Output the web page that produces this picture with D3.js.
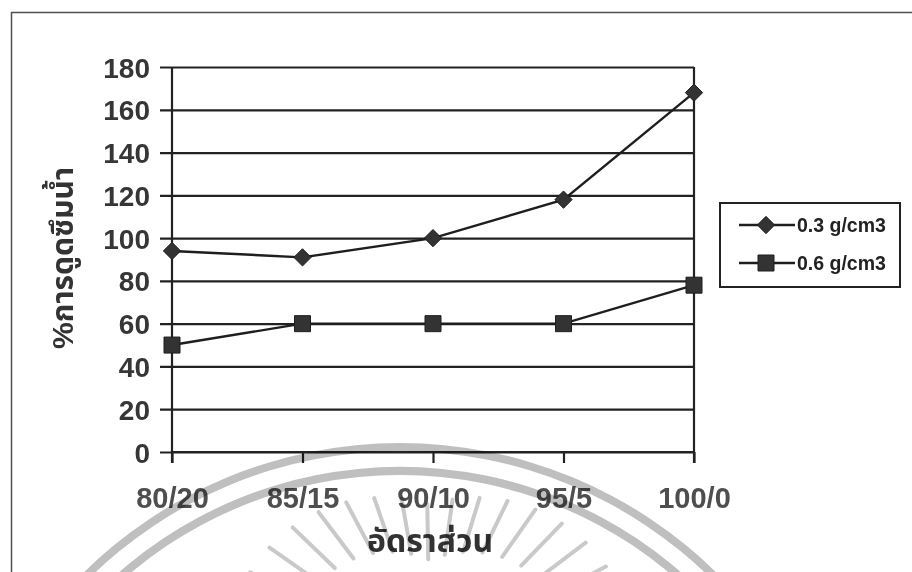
<!DOCTYPE html>
<html>
<head>
<meta charset="utf-8">
<script src="https://cdn.jsdelivr.net/npm/d3@7"></script>
<style>
  html, body { margin: 0; padding: 0; background: #fff; }
  svg { display: block; }
  text { font-family: "Liberation Sans", Arial, "Noto Sans Thai", sans-serif; font-weight: bold; }
</style>
</head>
<body>
<svg id="chart" width="912" height="572"></svg>
<script>
// Mix ratios (category axis)
const ratios = ["80/20", "85/15", "90/10", "95/5", "100/0"];
// Water absorption (%) for each density
const density03 = [94, 91, 100, 118, 168];
const density06 = [50, 60, 60, 60, 78];
const seriesNames = ["0.3 g/cm3", "0.6 g/cm3"];
const yTicks = [0, 20, 40, 60, 80, 100, 120, 140, 160, 180];

const svg = d3.select("#chart");
const W = 912, H = 572;
const ink = "#222";

// Outer frame of the chart
svg.append("rect")
  .attr("x", 11.5).attr("y", 12.5)
  .attr("width", W + 20).attr("height", H + 20)
  .attr("fill", "none").attr("stroke", "#505050").attr("stroke-width", 1.5);

const x = d3.scalePoint().domain(ratios).range([172, 694]);
const y = d3.scaleLinear().domain([0, 180]).range([452, 67]);

// Horizontal gridlines with left ticks
const yAxis = d3.axisLeft(y).tickValues(yTicks)
  .tickSize(-(694 - 172)).tickSizeOuter(0).tickPadding(22)
  .tickFormat(d3.format("d"));
const gy = svg.append("g").attr("transform", "translate(172,0)").call(yAxis);
gy.select(".domain").remove();
gy.selectAll(".tick line")
  .attr("x1", -12).attr("x2", 694 - 172)
  .attr("stroke", ink).attr("stroke-width", 2.2);
gy.selectAll(".tick text")
  .attr("fill", "#363636").attr("font-size", 28).attr("dy", "0.36em");

// Category axis with ticks hanging below
const xAxis = d3.axisBottom(x).tickSize(11).tickSizeOuter(0).tickPadding(24);
const gx = svg.append("g").attr("transform", "translate(0,452)").call(xAxis);
gx.select(".domain").attr("stroke", ink).attr("stroke-width", 2.2)
  .attr("d", `M172,0H694`);
gx.selectAll(".tick line").attr("stroke", ink).attr("stroke-width", 2.2);
gx.selectAll(".tick text")
  .attr("fill", "#4e4e4e").attr("font-size", 29).attr("dy", "0.71em");

// Value axis line and right edge of the plot
svg.append("line").attr("x1", 172).attr("x2", 172).attr("y1", y(180)).attr("y2", 463)
  .attr("stroke", ink).attr("stroke-width", 2.2);
svg.append("line").attr("x1", 694).attr("x2", 694).attr("y1", y(180)).attr("y2", 463)
  .attr("stroke", ink).attr("stroke-width", 2.2);

// Axis titles
svg.append("text")
  .attr("x", 430).attr("y", 552)
  .attr("text-anchor", "middle").attr("font-size", 32).attr("fill", "#333")
  .text("อัดราส่วน");
svg.append("text")
  .attr("transform", "translate(73,258) rotate(-90)")
  .attr("text-anchor", "middle").attr("font-size", 30).attr("fill", "#333")
  .text("%การดูดซึมน้ำ");

// Series
const line = d3.line().x((d, i) => x(ratios[i])).y(d => y(d));
const diamond = d3.symbol().type(d3.symbolDiamond2).size(190);
const square = d3.symbol().type(d3.symbolSquare).size(256);

function drawSeries(values, sym) {
  svg.append("path").datum(values).attr("d", line)
    .attr("fill", "none").attr("stroke", "#1e1e1e").attr("stroke-width", 2.4);
  svg.append("g").selectAll("path").data(values).join("path")
    .attr("transform", (d, i) => `translate(${x(ratios[i])},${y(d)})`)
    .attr("d", sym).attr("fill", "#333").attr("stroke", "#1e1e1e").attr("stroke-width", 1);
}
drawSeries(density03, diamond);
drawSeries(density06, square);

// Legend
const lg = svg.append("g");
lg.append("rect").attr("x", 720).attr("y", 203).attr("width", 180).attr("height", 84)
  .attr("fill", "#fff").attr("stroke", ink).attr("stroke-width", 2);
[[diamond, 225], [square, 263]].forEach(([sym, ly], k) => {
  lg.append("line").attr("x1", 739).attr("x2", 795).attr("y1", ly).attr("y2", ly)
    .attr("stroke", "#1e1e1e").attr("stroke-width", 2.4);
  lg.append("path").attr("transform", `translate(766,${ly})`).attr("d", sym)
    .attr("fill", "#333").attr("stroke", "#1e1e1e").attr("stroke-width", 1);
  lg.append("text").attr("x", 797).attr("y", ly).attr("dy", "0.36em")
    .attr("font-size", 19.5).attr("fill", "#222").text(seriesNames[k]);
});

// Faint seal watermark across the bottom of the page
const wm = svg.append("g").style("mix-blend-mode", "multiply").attr("opacity", 0.85);
const arc = d3.arc().startAngle(-Math.PI / 2).endAngle(Math.PI / 2);
[[443, 451], [419, 427]].forEach(([r0, r1]) => {
  wm.append("path").attr("transform", "translate(400,894)")
    .attr("d", arc.innerRadius(r0).outerRadius(r1)).attr("fill", "#b4b4b4");
});
d3.range(-163, -16, 9).forEach(a => {
  const t = a * Math.PI / 180;
  const k = Math.abs(Math.cos(t));
  const r1 = 100 + 45 * k, r2 = 155 + 50 * k;
  const cx = 430, cy = 660;
  wm.append("line")
    .attr("x1", cx + r1 * Math.cos(t)).attr("y1", cy + r1 * Math.sin(t))
    .attr("x2", cx + r2 * Math.cos(t)).attr("y2", cy + r2 * Math.sin(t))
    .attr("stroke", "#c0c0c0").attr("stroke-width", 4).attr("stroke-linecap", "round");
});
</script>
</body>
</html>
